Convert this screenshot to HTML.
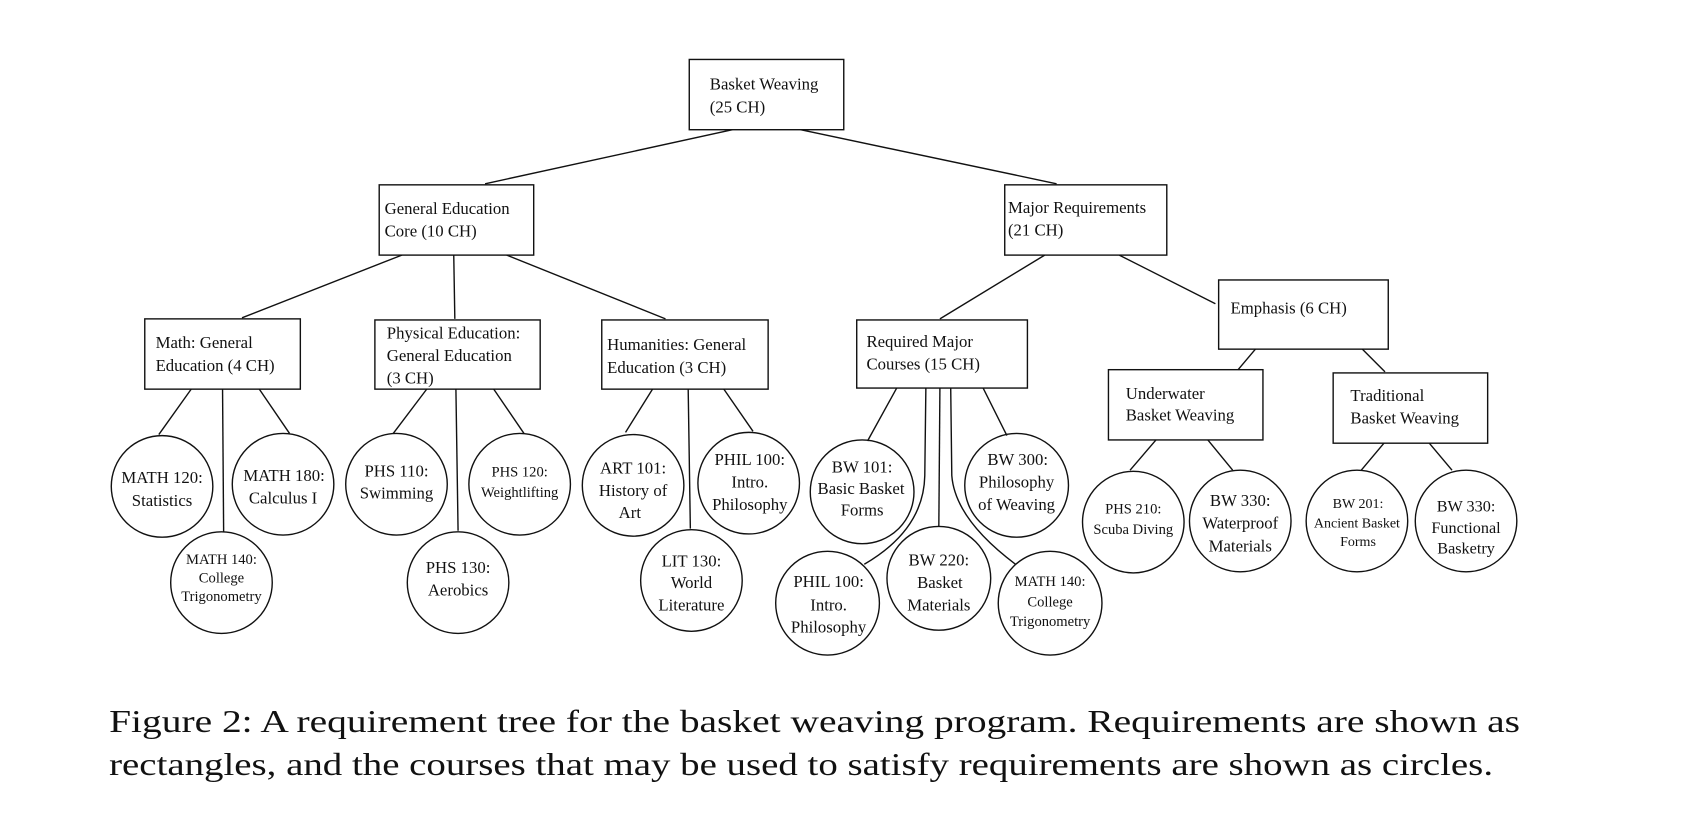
<!DOCTYPE html>
<html><head><meta charset="utf-8"><style>
html,body{margin:0;padding:0;background:#fff;}
svg{display:block;}
text{font-family:"Liberation Serif",serif;fill:#111;}
</style></head><body>
<svg width="1694" height="828" viewBox="0 0 1568 766" preserveAspectRatio="none" xmlns="http://www.w3.org/2000/svg">
<g stroke="#111" stroke-width="1.3" fill="none">
<rect x="638" y="55" width="143" height="65"/>
<rect x="351" y="171" width="143" height="65"/>
<rect x="930" y="171" width="150" height="65"/>
<rect x="134" y="295" width="144" height="65"/>
<rect x="347" y="296" width="153" height="64"/>
<rect x="557" y="296" width="154" height="64"/>
<rect x="793" y="296" width="158" height="63"/>
<rect x="1128" y="259" width="157" height="64"/>
<rect x="1026" y="342" width="143" height="65"/>
<rect x="1234" y="345" width="143" height="65"/>
<line x1="678" y1="120" x2="449" y2="170"/>
<line x1="741" y1="120" x2="978" y2="170"/>
<line x1="372" y1="236" x2="224" y2="294"/>
<line x1="420" y1="236" x2="421" y2="295"/>
<line x1="469" y1="236" x2="616" y2="295"/>
<line x1="967" y1="236" x2="870" y2="295"/>
<line x1="1036" y1="236" x2="1125" y2="281"/>
<line x1="1162" y1="323" x2="1146" y2="342"/>
<line x1="1261" y1="323" x2="1282" y2="344"/>
<line x1="177" y1="360" x2="147" y2="402"/>
<line x1="240" y1="360" x2="268" y2="401"/>
<line x1="206" y1="360" x2="207" y2="492"/>
<line x1="395" y1="360" x2="364" y2="401"/>
<line x1="422" y1="360" x2="424" y2="491"/>
<line x1="457" y1="360" x2="485" y2="401"/>
<line x1="604" y1="360" x2="579" y2="400"/>
<line x1="637" y1="360" x2="639" y2="489"/>
<line x1="670" y1="360" x2="697" y2="399"/>
<line x1="830" y1="359" x2="803" y2="408"/>
<path d="M857 359 L856 440 Q855 490 800 522"/>
<line x1="870" y1="359" x2="869" y2="487"/>
<path d="M880 359 L881 440 Q884 480 940 522"/>
<line x1="910" y1="359" x2="932" y2="403"/>
<line x1="1070" y1="407" x2="1046" y2="435"/>
<line x1="1118" y1="407" x2="1141" y2="435"/>
<line x1="1281" y1="410" x2="1260" y2="435"/>
<line x1="1323" y1="410" x2="1344" y2="435"/>
<circle cx="150" cy="450" r="47"/>
<circle cx="262" cy="448" r="47"/>
<circle cx="205" cy="539" r="47"/>
<circle cx="367" cy="448" r="47"/>
<circle cx="424" cy="539" r="47"/>
<circle cx="481" cy="448" r="47"/>
<circle cx="586" cy="449" r="47"/>
<circle cx="640" cy="537" r="47"/>
<circle cx="693" cy="447" r="47"/>
<circle cx="798" cy="455" r="48"/>
<circle cx="766" cy="558" r="48"/>
<circle cx="869" cy="535" r="48"/>
<circle cx="972" cy="558" r="48"/>
<circle cx="941" cy="449" r="48"/>
<circle cx="1049" cy="483" r="47"/>
<circle cx="1148" cy="482" r="47"/>
<circle cx="1256" cy="482" r="47"/>
<circle cx="1357" cy="482" r="47"/>
</g>
<g font-size="15.5">
<text x="657" y="83">Basket Weaving</text><text x="657" y="104">(25 CH)</text>
<text x="356" y="198">General Education</text><text x="356" y="219">Core (10 CH)</text>
<text x="933" y="197">Major Requirements</text><text x="933" y="218">(21 CH)</text>
<text x="144" y="322">Math: General</text><text x="144" y="343">Education (4 CH)</text>
<text x="358" y="313">Physical Education:</text><text x="358" y="334">General Education</text><text x="358" y="355">(3 CH)</text>
<text x="562" y="324">Humanities: General</text><text x="562" y="345">Education (3 CH)</text>
<text x="802" y="321">Required Major</text><text x="802" y="342">Courses (15 CH)</text>
<text x="1139" y="290">Emphasis (6 CH)</text>
<text x="1042" y="369">Underwater</text><text x="1042" y="389">Basket Weaving</text>
<text x="1250" y="371">Traditional</text><text x="1250" y="392">Basket Weaving</text>
</g>
<g font-size="15.5" text-anchor="middle">
<text x="150" y="447">MATH 120:</text><text x="150" y="468">Statistics</text>
<text x="263" y="445">MATH 180:</text><text x="262" y="466">Calculus I</text>
<text x="367" y="441">PHS 110:</text><text x="367" y="461">Swimming</text>
<text x="424" y="530">PHS 130:</text><text x="424" y="551">Aerobics</text>
<text x="586" y="438">ART 101:</text><text x="586" y="459">History of</text><text x="583" y="479">Art</text>
<text x="640" y="524">LIT 130:</text><text x="640" y="544">World</text><text x="640" y="565">Literature</text>
<text x="694" y="430">PHIL 100:</text><text x="694" y="451">Intro.</text><text x="694" y="472">Philosophy</text>
<text x="798" y="437">BW 101:</text><text x="797" y="457">Basic Basket</text><text x="798" y="477">Forms</text>
<text x="767" y="543">PHIL 100:</text><text x="767" y="565">Intro.</text><text x="767" y="585">Philosophy</text>
<text x="869" y="523">BW 220:</text><text x="870" y="544">Basket</text><text x="869" y="565">Materials</text>
<text x="942" y="430">BW 300:</text><text x="941" y="451">Philosophy</text><text x="941" y="472">of Weaving</text>
<text x="1148" y="468">BW 330:</text><text x="1148" y="489">Waterproof</text><text x="1148" y="510">Materials</text>
</g>
<g font-size="13.5" text-anchor="middle">
<text x="205" y="522">MATH 140:</text><text x="205" y="539">College</text><text x="205" y="556">Trigonometry</text>
<text x="481" y="441">PHS 120:</text><text x="481" y="460">Weightlifting</text>
<text x="972" y="542">MATH 140:</text><text x="972" y="561">College</text><text x="972" y="579">Trigonometry</text>
<text x="1049" y="475">PHS 210:</text><text x="1049" y="494">Scuba Diving</text>
<text x="1257" y="470" font-size="13">BW 201:</text><text x="1256" y="488" font-size="13">Ancient Basket</text><text x="1257" y="505" font-size="13">Forms</text>
<text x="1357" y="473" font-size="15">BW 330:</text><text x="1357" y="493" font-size="15">Functional</text><text x="1357" y="512" font-size="15">Basketry</text>
</g>
<g font-size="29" style="font-family:'Liberation Serif',serif">
<text x="101" y="677" textLength="1306" lengthAdjust="spacingAndGlyphs">Figure 2:  A requirement tree for the basket weaving program.  Requirements are shown as</text>
<text x="101" y="717" textLength="1281" lengthAdjust="spacingAndGlyphs">rectangles, and the courses that may be used to satisfy requirements are shown as circles.</text>
</g>
</svg>
</body></html>
